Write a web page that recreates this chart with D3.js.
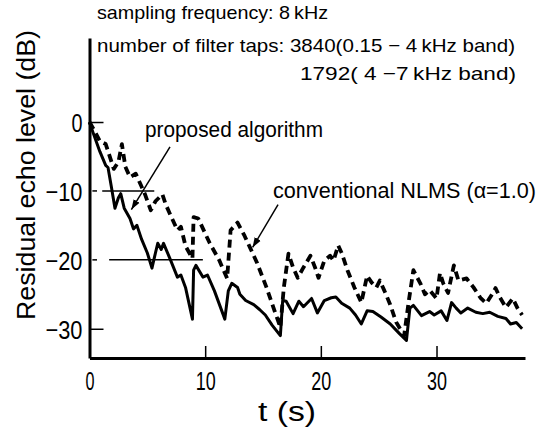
<!DOCTYPE html>
<html><head><meta charset="utf-8">
<script src="https://cdn.jsdelivr.net/npm/d3@7"></script>
<style>
html,body{margin:0;padding:0;background:#fff;}
text{font-family:"Liberation Sans",Arial,sans-serif;fill:#000;}
</style></head>
<body><svg id="c" width="547" height="429"></svg>
<script>
// ---- data ----
const tProposed = [0,0.3,0.9,1.4,1.6,1.9,2.2,2.5,2.7,3.0,3.5,3.8,4.1,4.5,5.0,5.4,5.7,5.9,6.2,6.4,7.0,7.6,7.9,8.3,8.9,9.0,9.2,9.8,10.2,10.8,11.7,12.0,12.3,12.8,13.0,13.5,14.2,14.7,15.2,15.8,16.5,16.7,17.0,17.6,18.1,18.5,19.2,19.7,20.3,20.9,21.3,21.8,22.5,23.0,23.5,24.0,24.5,25.2,26.0,26.8,27.4,27.7,28.0,28.7,29.4,29.8,30.4,30.9,31.3,31.7,32.1,32.7,33.4,34.0,34.6,35.3,36.0,36.4,36.9,37.4];
const dbProposed = [0,-1.5,-4.3,-6.3,-6.6,-9.5,-12.5,-11.0,-10.4,-12.5,-14.0,-15.5,-15.0,-17.0,-19.0,-21.2,-19.0,-17.6,-18.5,-17.6,-20.0,-22.5,-22.2,-24.0,-28.6,-21.5,-20.8,-22.5,-22.2,-24.5,-28.6,-24.5,-23.4,-24.0,-25.0,-25.9,-26.5,-27.2,-28.0,-29.5,-31.0,-25.9,-26.0,-27.8,-26.0,-26.8,-25.6,-27.7,-25.9,-25.5,-25.4,-26.3,-27.0,-28.0,-29.3,-27.4,-27.5,-28.3,-29.3,-30.7,-31.7,-27.0,-26.6,-28.1,-27.5,-28.0,-27.4,-28.8,-26.2,-27.0,-27.7,-27.0,-27.6,-27.8,-27.6,-28.2,-28.5,-29.3,-29.1,-30.0];
const tNLMS = [0,0.5,0.9,1.4,2.1,2.5,2.8,3.1,3.5,4.0,4.4,4.8,5.3,5.7,6.3,6.6,7.0,7.6,7.9,8.3,8.9,9.0,9.4,10.4,11.2,11.9,12.2,12.8,13.4,13.9,14.5,15.3,16.0,16.5,16.8,17.2,17.6,18.0,18.5,19.1,19.5,19.8,20.3,20.8,21.1,21.5,21.8,22.3,22.9,23.5,24.0,24.4,24.8,25.1,25.5,26.0,26.5,27.2,27.6,28.0,28.6,29.0,29.4,30.0,30.3,30.6,31.0,31.5,31.9,32.6,33.2,33.8,34.3,34.8,35.1,35.5,36.0,36.6,37.0,37.4];
const dbNLMS = [0,-1.5,-2.8,-3.2,-6.8,-5.8,-3.2,-6.5,-8.0,-7.5,-9.0,-10.5,-12.8,-11.5,-10.5,-12.0,-13.5,-15.7,-15.2,-18.0,-19.8,-13.8,-14.0,-17.6,-20.0,-22.7,-15.7,-14.6,-16.5,-18.3,-20.5,-24.0,-27.4,-29.8,-24.0,-19.1,-21.1,-22.6,-21.1,-19.4,-21.1,-22.6,-20.1,-19.4,-20.1,-17.9,-19.0,-21.5,-24.0,-26.2,-22.3,-23.3,-24.0,-23.0,-24.5,-26.5,-29.0,-31.0,-26.0,-21.5,-23.4,-25.0,-24.4,-25.6,-21.9,-23.5,-24.8,-20.8,-23.0,-22.7,-24.0,-25.5,-26.3,-25.0,-24.1,-25.5,-26.9,-25.6,-27.0,-28.0];
const xTicks = [0,10,20,30];
const yTicks = [0,-10,-20,-30];
const xTitle = "t (s)";
const yTitle = "Residual echo level (dB)";
const noteLines = ["sampling frequency: 8\u2009kHz","number of filter taps: 3840(0.15 \u2212 4\u2009kHz band)","1792( 4 \u22127\u2009kHz band)"];
const labelProposed = "proposed algorithm";
const labelNLMS = "conventional NLMS (\u03b1=1.0)";
// partial reference lines [level, tStart, tEnd]
const refSegments = [[-10,0.25,0.65],[-10,1.1,5.6],[-20,0.25,0.65],[-20,1.7,9.8]];
// arrows [tFrom, dbFrom, tTo, dbTo]
const arrows = [[6.96,-3.6,3.62,-12.7],[16.3,-12.0,14.1,-18.2]];

// ---- scales ----
const svg = d3.select("#c");
const x = d3.scaleLinear().domain([0,37.65]).range([89.5,525]);
const y = d3.scaleLinear().domain([-34.24,12.19]).range([358,38]);

function fit(sel, w){ sel.attr("textLength",w).attr("lengthAdjust","spacingAndGlyphs"); }

// axes
const gx = svg.append("g").attr("transform","translate(0,358)")
  .call(d3.axisBottom(x).tickValues(xTicks).tickSizeInner(-12).tickSizeOuter(0).tickPadding(8).tickFormat(d3.format("d")));
gx.select(".domain").attr("stroke-width",3);
gx.selectAll(".tick line").attr("stroke-width",1.5);
gx.selectAll(".tick text").attr("font-size",25).attr("font-family",null).attr("dy","0.95em")
  .attr("textLength",d=>d===0?9:20).attr("lengthAdjust","spacingAndGlyphs");
gx.selectAll(".tick").filter(d=>d===0).select("line").remove();

const gy = svg.append("g").attr("transform","translate(89.5,0)")
  .call(d3.axisLeft(y).tickValues(yTicks).tickSizeInner(-14).tickSizeOuter(0).tickPadding(7).tickFormat(d3.format("d")));
gy.select(".domain").attr("stroke-width",3);
gy.selectAll(".tick line").attr("stroke-width",1.5);
gy.selectAll(".tick text").attr("font-size",26).attr("font-family",null).attr("dy","0.38em")
  .attr("textLength",d=>d===0?11:37).attr("lengthAdjust","spacingAndGlyphs");
gy.selectAll(".tick").filter(d=>d===-10||d===-20).select("line").remove();

// reference segments
svg.selectAll("line.ref").data(refSegments).join("line").attr("class","ref")
  .attr("x1",d=>x(d[1])).attr("x2",d=>x(d[2])).attr("y1",d=>y(d[0])).attr("y2",d=>y(d[0]))
  .attr("stroke","#000").attr("stroke-width",1.5);

// curves
const line = d3.line().x(d=>x(d[0])).y(d=>y(d[1]));
svg.append("path").datum(tNLMS.map((t,i)=>[t,dbNLMS[i]]))
  .attr("d",line).attr("fill","none").attr("stroke","#000").attr("stroke-width",3.8)
  .attr("stroke-dasharray","8,5").attr("stroke-linejoin","round");
svg.append("path").datum(tProposed.map((t,i)=>[t,dbProposed[i]]))
  .attr("d",line).attr("fill","none").attr("stroke","#000").attr("stroke-width",3).attr("stroke-linejoin","round");

// arrows
const defs = svg.append("defs");
defs.append("marker").attr("id","ah").attr("viewBox","0 0 10 10").attr("refX",10).attr("refY",5)
  .attr("markerWidth",10).attr("markerHeight",10).attr("markerUnits","userSpaceOnUse").attr("orient","auto")
  .append("path").attr("d","M0,1.5 L10,5 L0,8.5 Z").attr("fill","#000");
svg.selectAll("line.arr").data(arrows).join("line").attr("class","arr")
  .attr("x1",d=>x(d[0])).attr("y1",d=>y(d[1])).attr("x2",d=>x(d[2])).attr("y2",d=>y(d[3]))
  .attr("stroke","#000").attr("stroke-width",1.5).attr("marker-end","url(#ah)");

// texts
svg.append("text").attr("x",97).attr("y",19).attr("font-size",19).text(noteLines[0]).call(fit,231);
svg.append("text").attr("x",97).attr("y",52).attr("font-size",19).text(noteLines[1]).call(fit,418);
svg.append("text").attr("x",300).attr("y",80).attr("font-size",19).text(noteLines[2]).call(fit,216);
svg.append("text").attr("x",145).attr("y",137).attr("font-size",22).text(labelProposed).call(fit,178);
svg.append("text").attr("x",273).attr("y",198).attr("font-size",21.5).text(labelNLMS).call(fit,263);
svg.append("text").attr("x",287).attr("y",421).attr("text-anchor","middle").attr("font-size",27).text(xTitle).call(fit,58);
svg.append("text").attr("transform","translate(35,175) rotate(-90)").attr("text-anchor","middle").attr("font-size",26).text(yTitle).call(fit,290);
</script></body></html>
